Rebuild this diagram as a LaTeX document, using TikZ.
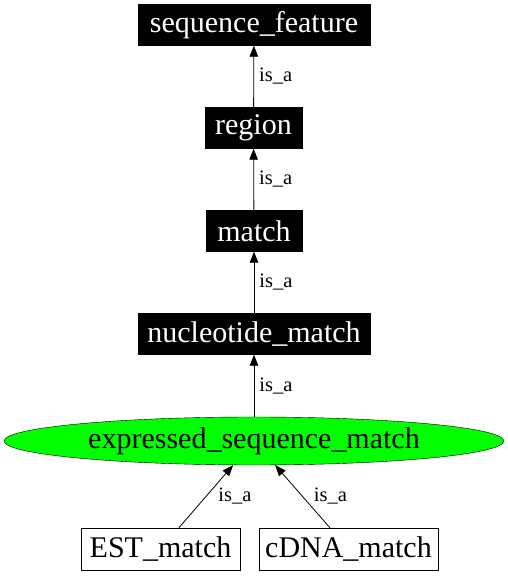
\documentclass[tikz,border=0pt]{standalone}
\usepackage{fontspec}
\setmainfont{Liberation Serif}
\usepackage[RGB]{xcolor}
\usetikzlibrary{arrows.meta,shapes.geometric}
\definecolor{esmgreen}{RGB}{0,255,0}
\newcommand{\termfont}{\fontsize{30}{34}\selectfont}
\newcommand{\isafont}{\fontsize{20.5}{24}\selectfont}
\tikzset{
  termbox/.style={draw=black,fill=black,text=white,font=\termfont,inner sep=0pt,minimum height=41pt},
  leafbox/.style={draw=black,fill=white,font=\termfont,inner sep=0pt,minimum height=42pt},
  esmoval/.style={ellipse,draw=black,fill=esmgreen,font=\termfont,inner sep=0pt,minimum width=500pt,minimum height=48pt},
  isarrow/.style={draw=black,line width=0.8pt,-{Triangle[length=11pt,width=8.5pt]}},
  isalabel/.style={font=\isafont,anchor=west,inner sep=0pt}
}
\newcommand{\isaedge}[3]{\draw[isarrow] (#1) -- node[isalabel,xshift=#3] {is\_a} (#2);}
\begin{document}
\begin{tikzpicture}[x=1pt,y=1pt]
\useasboundingbox (0,0) rectangle (508,576);
\node[termbox,minimum width=232pt] (seqfeat) at (254,551) {sequence\_feature};
\node[termbox,minimum width=97pt] (region) at (253.5,448) {region};
\node[termbox,minimum width=96pt] (match) at (254,345) {match};
\node[termbox,minimum width=232pt] (nucmatch) at (254,242) {nucleotide\_match};
\node[esmoval] (esm) at (254,135) {expressed\_sequence\_match};
\node[leafbox,minimum width=159pt] (est) at (160.5,27) {EST\_match};
\node[leafbox,minimum width=179pt] (cdna) at (348.5,27) {cDNA\_match};
% is_a edges, child -> parent
\isaedge{region}{seqfeat}{5pt}
\isaedge{match}{region}{5pt}
\isaedge{nucmatch}{match}{5pt}
\isaedge{esm}{nucmatch}{5pt}
\isaedge{est}{esm}{12pt}
\isaedge{cdna}{esm}{11pt}
\end{tikzpicture}
\end{document}
